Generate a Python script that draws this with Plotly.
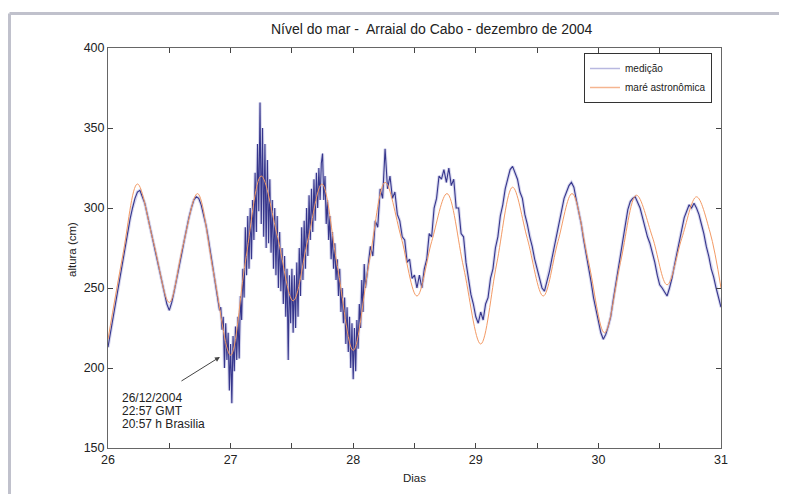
import numpy as np
import plotly.graph_objects as go

# ---------------- data ----------------
# astronomical tide (read at extremes and mid-slopes)
tide_days = [26.00, 26.12, 26.24, 26.37, 26.50, 26.61, 26.73, 26.86, 27.00, 27.12,
             27.25, 27.38, 27.51, 27.63, 27.745, 27.87, 28.00, 28.13, 28.26, 28.39,
             28.52, 28.64, 28.765, 28.90, 29.04, 29.17, 29.30, 29.42, 29.55, 29.67,
             29.785, 29.92, 30.05, 30.18, 30.31, 30.44, 30.56, 30.68, 30.80, 30.91, 31.00]
tide_vals = [218, 270, 315, 279, 241, 276, 309, 260, 208, 266,
             320, 283, 242, 280, 315, 264, 211, 266, 316, 282,
             245, 279, 309, 263, 215, 265, 313, 281, 245, 279,
             309, 266, 222, 266, 308, 282, 252, 281, 307, 285, 250]

# measured sea level, three sampled stretches
seg1_start, seg1_step = 26.00, 0.02
seg1_vals = [213, 222, 230, 241, 250, 259, 266, 276, 284, 293,
             300, 306, 310, 311, 307, 303, 296, 289, 281, 273,
             266, 259, 252, 246, 240, 236, 241, 248, 255, 263,
             271, 279, 287, 294, 300, 305, 307, 306, 302, 296,
             289, 280, 270, 261, 251, 243]

seg2_start, seg2_step = 26.91, 0.01
seg2_vals = [236, 238, 224, 232, 200, 228, 205, 222, 186, 215,
             178, 220, 198, 226, 205, 232, 206, 245, 230, 262,
             244, 288, 258, 295, 262, 300, 268, 305, 280, 322,
             285, 340, 298, 366, 290, 350, 282, 340, 275, 330,
             278, 318, 272, 305, 262, 300, 258, 295, 250, 285,
             248, 275, 240, 270, 232, 262, 205, 258, 228, 262,
             222, 258, 225, 266, 232, 275, 245, 288, 255, 292,
             262, 300, 270, 308, 280, 312, 285, 318, 292, 322,
             300, 325, 305, 328, 334, 305, 320, 290, 305, 280,
             295, 268, 285, 262, 278, 255, 268, 245, 262, 235,
             250, 228, 244, 215, 238, 210, 232, 200, 228, 193,
             225, 198, 230, 212, 240, 225, 255, 235, 265, 250]

seg3_start, seg3_step = 28.12, 0.02
seg3_vals = [262, 276, 270, 292, 288, 312, 306, 337, 312, 320,
             306, 310, 296, 292, 282, 280, 266, 268, 256, 258,
             250, 258, 250, 262, 268, 284, 282, 300, 306, 320,
             318, 324, 316, 325, 314, 318, 300, 300, 284, 282,
             266, 255, 246, 240, 232, 228, 235, 230, 240, 244,
             256, 262, 275, 282, 295, 302, 312, 318, 324, 326,
             322, 318, 310, 306, 296, 290, 282, 276, 268, 262,
             255, 250, 248, 254, 260, 268, 276, 284, 292, 300,
             306, 310, 314, 316, 313, 305, 298, 290, 280, 272,
             262, 254, 244, 236, 228, 222, 218, 221, 226, 232,
             242, 252, 262, 272, 282, 292, 299, 304, 306, 307,
             304, 300, 294, 288, 282, 278, 272, 266, 258, 252,
             250, 247, 245, 250, 256, 264, 272, 280, 288, 294,
             298, 302, 300, 303, 300, 296, 290, 284, 276, 270,
             262, 257, 250, 244, 238]

x_ticks = [26, 26.5, 27, 27.5, 28, 28.5, 29, 29.5, 30, 30.5, 31]
x_ticktext = ['26', '', '27', '', '28', '', '29', '', '30', '', '31']
y_ticks = [150, 200, 250, 300, 350, 400]

title_text = 'Nível do mar -  Arraial do Cabo - dezembro de 2004'
note_lines = ['26/12/2004', '22:57 GMT', '20:57 h Brasilia']
note_day = 26.098
note_vals = [181.3, 173.1, 165.0]
arrow_tail = (26.587, 191.3)
arrow_head = (26.913, 206.9)

# ---------------- figure ----------------
def seg_days(start, step, vals):
    return start + step * np.arange(len(vals))

meas_days = np.concatenate([seg_days(seg1_start, seg1_step, seg1_vals),
                            seg_days(seg2_start, seg2_step, seg2_vals),
                            seg_days(seg3_start, seg3_step, seg3_vals)])
meas_vals = seg1_vals + seg2_vals + seg3_vals

FONT = 'Liberation Sans, Arial, sans-serif'
fig = go.Figure()
fig.add_trace(go.Scatter(x=meas_days, y=meas_vals, mode='lines',
                         line=dict(color='rgba(140,140,205,0.35)', width=3.2),
                         showlegend=False, hoverinfo='skip'))
fig.add_trace(go.Scatter(x=meas_days, y=meas_vals, mode='lines',
                         line=dict(color='#36368c', width=1.1),
                         showlegend=False))
fig.add_trace(go.Scatter(x=tide_days, y=tide_vals, mode='lines',
                         line=dict(color='#f39a65', width=1, shape='spline', smoothing=1.0),
                         showlegend=False))
fig.add_trace(go.Scatter(x=[None], y=[None], mode='lines', name='medição',
                         line=dict(color='#b8b8e0', width=1.5)))
fig.add_trace(go.Scatter(x=[None], y=[None], mode='lines', name='maré astronômica',
                         line=dict(color='#f5b590', width=1.5)))

# the page adds an 8px body margin, so pixel positions are shifted by -8
OFF = 8
L, R, T, B = 108 - OFF, 721 - OFF, 48 - OFF, 448 - OFF
W, H = 787 - OFF, 494 - OFF
def px(xp):
    return (xp - OFF - L) / (R - L)
def py(yp):
    return (B - (yp - OFF)) / (B - T)

annotations = [
    dict(text=title_text, x=px(432), y=py(29), xref='paper', yref='paper',
         xanchor='center', yanchor='middle',
         showarrow=False, font=dict(size=14, color='#222', family=FONT)),
    dict(text='altura (cm)', x=px(72), y=py(250), xref='paper', yref='paper',
         xanchor='center', yanchor='middle',
         showarrow=False, textangle=-90, font=dict(size=11.5, color='#222', family=FONT)),
    dict(text='Dias', x=px(414), y=py(478), xref='paper', yref='paper',
         xanchor='center', yanchor='middle',
         showarrow=False, font=dict(size=11.5, color='#222', family=FONT)),
    dict(text='', x=arrow_head[0], y=arrow_head[1], ax=arrow_tail[0], ay=arrow_tail[1],
         xref='x', yref='y', axref='x', ayref='y', showarrow=True,
         arrowhead=2, arrowsize=1, arrowwidth=1, arrowcolor='#444'),
]
for line, v in zip(note_lines, note_vals):
    annotations.append(dict(text=line, x=note_day, y=v, xref='x', yref='y',
                            xanchor='left', yanchor='middle', showarrow=False,
                            font=dict(size=12, color='#222', family=FONT)))

shapes = [
    dict(type='line', xref='paper', yref='paper', x0=px(9.5), x1=px(800), y0=py(13.5), y1=py(13.5),
         line=dict(color='#c0c1cc', width=3)),
    dict(type='line', xref='paper', yref='paper', x0=px(9.5), x1=px(9.5), y0=py(13.5), y1=py(510),
         line=dict(color='#c0c1cc', width=3)),
]

fig.update_layout(
    width=W, height=H, autosize=False,
    margin=dict(l=L, r=W - R, t=T, b=H - B),
    paper_bgcolor='white', plot_bgcolor='white',
    font=dict(family=FONT, size=12, color='#222'),
    annotations=annotations, shapes=shapes,
    legend=dict(x=px(712), xanchor='right', y=py(53), yanchor='top',
                bgcolor='white', bordercolor='#333', borderwidth=1,
                font=dict(size=10, family=FONT, color='#222'),
                itemwidth=30, tracegroupgap=0),
    xaxis=dict(range=[26, 31], tickvals=x_ticks, ticktext=x_ticktext,
               ticks='inside', ticklen=5, tickcolor='#444', showline=True,
               linecolor='#666', linewidth=1, mirror='ticks', showgrid=False,
               zeroline=False, tickfont=dict(size=12.5, family=FONT, color='#222')),
    yaxis=dict(range=[150, 400], tickvals=y_ticks,
               ticks='inside', ticklen=5, tickcolor='#444', showline=True,
               linecolor='#666', linewidth=1, mirror='ticks', showgrid=False,
               zeroline=False, tickfont=dict(size=12.5, family=FONT, color='#222')),
)

fig.write_html('out.html')
